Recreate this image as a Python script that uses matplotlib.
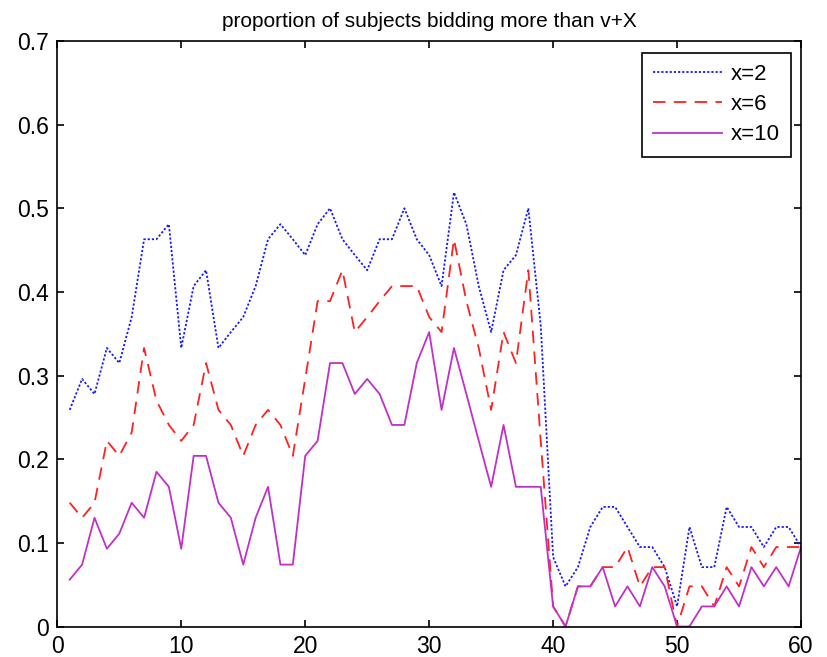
import numpy as np
import matplotlib
matplotlib.use('Agg')
import matplotlib.pyplot as plt

plt.rcParams['font.family'] = ['Liberation Sans', 'DejaVu Sans']
plt.rcParams['lines.scale_dashes'] = False

rounds = np.arange(1, 61)

# proportion bidding more than v+2
x2 = [0.259, 0.296, 0.278, 0.333, 0.315, 0.370, 0.463, 0.463, 0.481, 0.333,
      0.407, 0.426, 0.333, 0.352, 0.370, 0.407, 0.463, 0.481, 0.463, 0.444,
      0.481, 0.500, 0.463, 0.444, 0.426, 0.463, 0.463, 0.500, 0.463, 0.444,
      0.407, 0.519, 0.481, 0.407, 0.352, 0.426, 0.444, 0.500, 0.360, 0.083,
      0.048, 0.071, 0.119, 0.143, 0.143, 0.119, 0.095, 0.095, 0.071, 0.024,
      0.119, 0.071, 0.071, 0.143, 0.119, 0.119, 0.095, 0.119, 0.119, 0.095]

# proportion bidding more than v+6
x6 = [0.148, 0.130, 0.148, 0.222, 0.204, 0.232, 0.333, 0.270, 0.241, 0.222,
      0.241, 0.315, 0.259, 0.241, 0.204, 0.241, 0.259, 0.241, 0.204, 0.296,
      0.389, 0.389, 0.426, 0.352, 0.370, 0.389, 0.407, 0.407, 0.407, 0.370,
      0.352, 0.463, 0.389, 0.333, 0.259, 0.352, 0.315, 0.426, 0.222, 0.024,
      0.000, 0.048, 0.048, 0.071, 0.071, 0.095, 0.048, 0.071, 0.071, 0.000,
      0.048, 0.048, 0.024, 0.071, 0.048, 0.095, 0.071, 0.095, 0.095, 0.095]

# proportion bidding more than v+10
x10 = [0.056, 0.074, 0.130, 0.093, 0.111, 0.148, 0.130, 0.185, 0.167, 0.093,
       0.204, 0.204, 0.148, 0.130, 0.074, 0.130, 0.167, 0.074, 0.074, 0.204,
       0.222, 0.315, 0.315, 0.278, 0.296, 0.278, 0.241, 0.241, 0.315, 0.352,
       0.259, 0.333, 0.278, 0.222, 0.167, 0.241, 0.167, 0.167, 0.167, 0.024,
       0.000, 0.048, 0.048, 0.071, 0.024, 0.048, 0.024, 0.071, 0.048, 0.000,
       0.000, 0.024, 0.024, 0.048, 0.024, 0.071, 0.048, 0.071, 0.048, 0.095]

labels = ['x=2', 'x=6', 'x=10']
xticks = [0, 10, 20, 30, 40, 50, 60]
yticks = [0, 0.1, 0.2, 0.3, 0.4, 0.5, 0.6, 0.7]
ytick_labels = ['0', '0.1', '0.2', '0.3', '0.4', '0.5', '0.6', '0.7']
title = 'proportion of subjects bidding more than v+X'

fig = plt.figure(figsize=(8.27, 6.57), dpi=100)
ax = fig.add_axes([0.0693, 0.0464, 0.8993, 0.8912])

ax.plot(rounds, x2, color='#1a1aff', lw=1.3, dashes=(1.6, 1.4), label=labels[0])
ax.plot(rounds, x6, color='#ff2020', lw=1.3, dashes=(9, 6), label=labels[1])
ax.plot(rounds, x10, color='#c030c8', lw=1.3, label=labels[2])

ax.set_xlim(0, 60)
ax.set_ylim(0, 0.7)
ax.set_xticks(xticks)
ax.set_yticks(yticks)
ax.set_yticklabels(ytick_labels)
ax.tick_params(direction='in', length=5, width=1.2, top=True, right=True,
               labelsize=16.5, pad=6)
for s in ax.spines.values():
    s.set_linewidth(1.2)

ax.set_title(title, fontsize=15, pad=10)

leg = ax.legend(loc='upper right', bbox_to_anchor=(0.9866, 0.98), fontsize=16,
                handlelength=3.1, handletextpad=0.4, labelspacing=0.42,
                borderpad=0.5, borderaxespad=0, fancybox=False, framealpha=1)
leg.get_frame().set_edgecolor('black')
leg.get_frame().set_linewidth(1.2)

plt.savefig('out.png', dpi=100)
